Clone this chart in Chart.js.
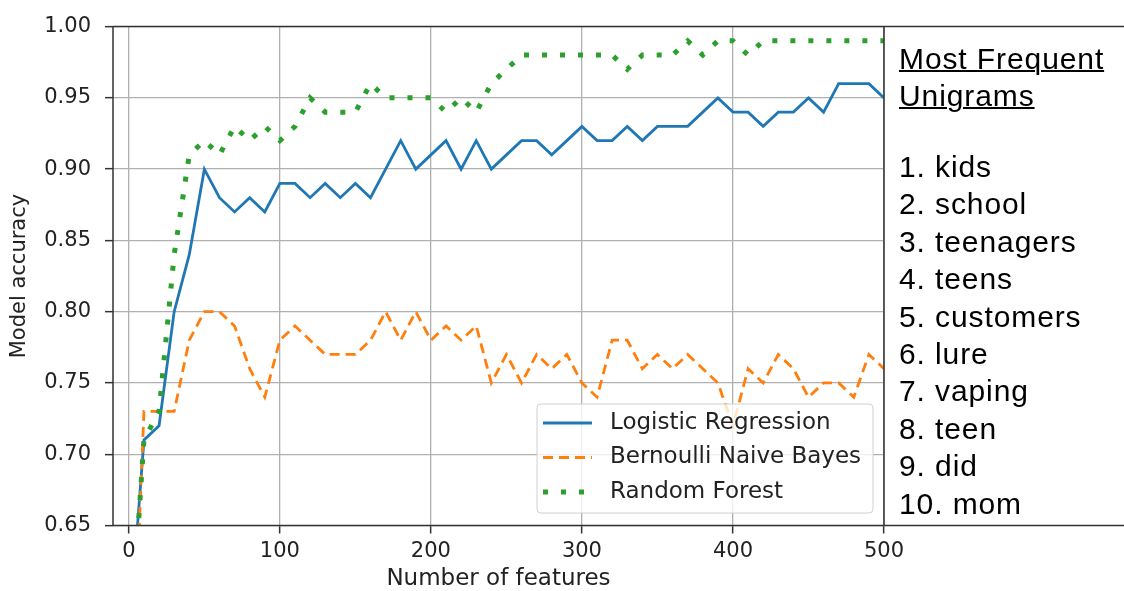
<!DOCTYPE html>
<html>
<head>
<meta charset="utf-8">
<script src="https://cdn.jsdelivr.net/npm/chart.js@4.4.0/dist/chart.umd.min.js"></script>
<style>
  body { margin: 0; background: #fff; }
  #wrap { position: relative; width: 1124px; height: 591px; }
  #panel { position: absolute; left: 899px; top: 0; font-family: "Liberation Sans", Arial, sans-serif;
           font-size: 30px; letter-spacing: 0.9px; color: #000; white-space: nowrap; }
  #head { position: absolute; top: 40px; line-height: 37px; text-decoration: underline; text-decoration-thickness: 2px; }
  #list { position: absolute; top: 148px; line-height: 37.4px; }
</style>
</head>
<body>
<div id="wrap">
  <canvas id="myChart" width="1124" height="591"></canvas>
  <div id="panel"><div id="head"></div><div id="list"></div></div>
</div>
<script>
// number of features (x axis)
const numFeatures = [5, 10, 20, 30, 40, 50, 60, 70, 80, 90, 100,
  110, 120, 130, 140, 150, 160, 170, 180, 190, 200,
  210, 220, 230, 240, 250, 260, 270, 280, 290, 300,
  310, 320, 330, 340, 350, 360, 370, 380, 390, 400,
  410, 420, 430, 440, 450, 460, 470, 480, 490, 500];

// accuracies
const logisticAcc = [0.64, 0.71, 0.72, 0.80, 0.84, 0.90, 0.88, 0.87, 0.88, 0.87, 0.89,
  0.89, 0.88, 0.89, 0.88, 0.89, 0.88, 0.90, 0.92, 0.90, 0.91,
  0.92, 0.90, 0.92, 0.90, 0.91, 0.92, 0.92, 0.91, 0.92, 0.93,
  0.92, 0.92, 0.93, 0.92, 0.93, 0.93, 0.93, 0.94, 0.95, 0.94,
  0.94, 0.93, 0.94, 0.94, 0.95, 0.94, 0.96, 0.96, 0.96, 0.95];
const bernoulliAcc = [0.60, 0.73, 0.73, 0.73, 0.78, 0.80, 0.80, 0.79, 0.76, 0.74, 0.78,
  0.79, 0.78, 0.77, 0.77, 0.77, 0.78, 0.80, 0.78, 0.80, 0.78,
  0.79, 0.78, 0.79, 0.75, 0.77, 0.75, 0.77, 0.76, 0.77, 0.75,
  0.74, 0.78, 0.78, 0.76, 0.77, 0.76, 0.77, 0.76, 0.75, 0.72,
  0.76, 0.75, 0.77, 0.76, 0.74, 0.75, 0.75, 0.74, 0.77, 0.76];
const forestAcc = [0.63, 0.71, 0.73, 0.84, 0.91, 0.92, 0.91, 0.93, 0.92, 0.93, 0.92,
  0.93, 0.95, 0.94, 0.94, 0.94, 0.96, 0.95, 0.95, 0.95, 0.95,
  0.94, 0.95, 0.94, 0.96, 0.97, 0.98, 0.98, 0.98, 0.98, 0.98,
  0.98, 0.98, 0.97, 0.98, 0.98, 0.98, 0.99, 0.98, 0.99, 0.99,
  0.98, 0.99, 0.99, 0.99, 0.99, 0.99, 0.99, 0.99, 0.99, 0.99];

const seriesNames = ['Logistic Regression', 'Bernoulli Naive Bayes', 'Random Forest'];
const yTicks = [0.65, 0.70, 0.75, 0.80, 0.85, 0.90, 0.95, 1.00];
const xTicks = [0, 100, 200, 300, 400, 500];

const panelTitle = ['Most Frequent', 'Unigrams'];
const unigrams = ['1. kids', '2. school', '3. teenagers', '4. teens', '5. customers',
  '6. lure', '7. vaping', '8. teen', '9. did', '10. mom'];

document.getElementById('head').innerHTML = panelTitle.join('<br>');
document.getElementById('list').innerHTML = unigrams.join('<br>');

const toPts = vals => vals.map((v, i) => ({x: numFeatures[i], y: v}));
const txt = '#222';
const mplFont = {family: 'DejaVu Sans', size: 21};

// spines + legend box inside the axes (like matplotlib)
const frame = {
  id: 'frame',
  afterDatasetsDraw(chart) {
    const {ctx, chartArea: a, width} = chart;
    ctx.save();
    // legend
    const bw = 336, bh = 109;
    const bx = a.right - 11 - bw, by = a.bottom - 12.5 - bh;
    ctx.beginPath();
    ctx.roundRect(bx, by, bw, bh, 4);
    ctx.fillStyle = 'rgba(255,255,255,0.8)';
    ctx.fill();
    ctx.strokeStyle = '#d0d0d0';
    ctx.lineWidth = 1;
    ctx.stroke();
    chart.data.datasets.forEach((ds, i) => {
      const cy = by + 19 + i * 34.5;
      ctx.beginPath();
      ctx.setLineDash(ds.borderDash || []);
      ctx.strokeStyle = ds.borderColor;
      ctx.lineWidth = ds.borderWidth;
      ctx.moveTo(bx + 6, cy);
      ctx.lineTo(bx + 55, cy);
      ctx.stroke();
      ctx.setLineDash([]);
      ctx.fillStyle = txt;
      ctx.font = '23px "DejaVu Sans"';
      ctx.textBaseline = 'middle';
      ctx.fillText(ds.label, bx + 73, cy);
    });
    // axes frame, top and bottom run on under the word list
    ctx.strokeStyle = '#333';
    ctx.lineWidth = 1.5;
    ctx.beginPath();
    ctx.moveTo(a.left, a.top); ctx.lineTo(width, a.top);
    ctx.moveTo(a.left, a.bottom); ctx.lineTo(width, a.bottom);
    ctx.moveTo(a.left, a.top); ctx.lineTo(a.left, a.bottom);
    ctx.moveTo(a.right, a.top); ctx.lineTo(a.right, a.bottom);
    ctx.stroke();
    ctx.restore();
  }
};

const config = {
  type: 'line',
  data: {
    datasets: [{
      label: seriesNames[0],
      data: toPts(logisticAcc),
      borderColor: '#1f77b4',
      borderWidth: 2.8,
      order: 3
    }, {
      label: seriesNames[1],
      data: toPts(bernoulliAcc),
      borderColor: '#ff7f0e',
      borderWidth: 2.8,
      borderDash: [10, 6],
      order: 2
    }, {
      label: seriesNames[2],
      data: toPts(forestAcc),
      borderColor: '#2ca02c',
      borderWidth: 5,
      borderDash: [5, 13],
      borderCapStyle: 'butt',
      order: 1
    }]
  },
  options: {
    responsive: false,
    animation: false,
    devicePixelRatio: 1,
    layout: {padding: {top: 25, right: 240, left: 0, bottom: 0}},
    elements: {point: {radius: 0}, line: {tension: 0, fill: false}},
    plugins: {legend: {display: false}, tooltip: {enabled: false}},
    scales: {
      x: {
        type: 'linear',
        min: -10.5,
        max: 500,
        afterFit: s => { s.height = 65.5; },
        afterBuildTicks: s => { s.ticks = xTicks.map(v => ({value: v})); },
        ticks: {stepSize: 100, includeBounds: false, color: txt, font: mplFont, padding: 5, maxRotation: 0},
        grid: {color: '#b0b0b0', lineWidth: 1.3, tickColor: '#333', tickLength: 8, tickWidth: 1.5},
        border: {display: false},
        title: {display: true, text: 'Number of features', color: txt,
                font: {family: 'DejaVu Sans', size: 23, lineHeight: 1}, padding: {top: 0, bottom: 0}}
      },
      y: {
        min: 0.65,
        max: 1.0,
        afterFit: s => { s.width = 113; },
        afterBuildTicks: s => { s.ticks = yTicks.map(v => ({value: v})); },
        ticks: {stepSize: 0.05, color: txt, font: mplFont, padding: 14, callback: v => v.toFixed(2)},
        grid: {color: '#b0b0b0', lineWidth: 1.3, tickColor: '#333', tickLength: 8, tickWidth: 1.5},
        border: {display: false},
        title: {display: true, text: 'Model accuracy', color: txt,
                font: {family: 'DejaVu Sans', size: 21, lineHeight: 1}, padding: {top: 9, bottom: 0}}
      }
    }
  },
  plugins: [frame]
};

const ctx = document.getElementById('myChart').getContext('2d');
const myChart = new Chart(ctx, config);
</script>
</body>
</html>
